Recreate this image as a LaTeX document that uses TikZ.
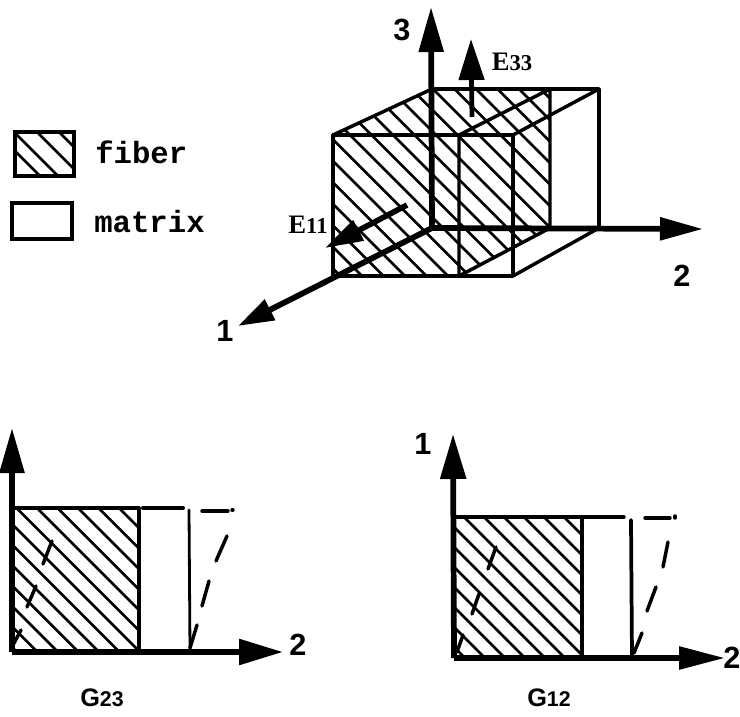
\documentclass[tikz,border=0pt]{standalone}
\usepackage{fontspec}
\setmainfont{Liberation Sans}
\newfontfamily\legendfont{Liberation Mono}[BoldFont={Liberation Mono Bold}]
\newfontfamily\efont{Liberation Serif}
\usetikzlibrary{arrows.meta}
\tikzset{
  edge/.style={line width=2.6pt,line cap=round,line join=round},
  frameedge/.style={line width=3pt,line cap=round,line join=round},
  thinedge/.style={line width=2.1pt,line cap=round},
  hatchline/.style={line width=1.9pt},
  axis/.style={line width=4.3pt},
  axhead/.style 2 args={-{Triangle[length=#1*0.75pt,width=#2*0.75pt]}},
  dashpiece/.style={line width=2.6pt,line cap=round},
  numlabel/.style={inner sep=0pt,font=\fontsize{23}{23}\selectfont\bfseries},
  legendlabel/.style={inner sep=0pt,anchor=west,font=\fontsize{23}{23}\selectfont\legendfont\bfseries},
  elabel/.style={inner sep=0pt,font=\fontsize{20}{20}\selectfont\efont\bfseries},
  glabel/.style={inner sep=0pt,font=\fontsize{19}{19}\selectfont\bfseries}
}
\begin{document}
\begin{tikzpicture}[x=0.75pt,y=-0.75pt]
\useasboundingbox (0,0) rectangle (740,717);
% ---------- legend
\begin{scope}
\clip (15,132) rectangle (74,176);
\foreach \c in {-14,4,27,49}{\draw[hatchline] (\c,122) -- ++(70,70);}
\end{scope}
\node[draw,line width=2.8pt,minimum width=44pt,minimum height=33pt,inner sep=0pt] (fiberbox) at (44.5,154) {};
\node[draw,line width=2.8pt,minimum width=45pt,minimum height=27pt,inner sep=0pt] (matrixbox) at (42,221) {};
\node[legendlabel] (fibertext) at (95,152) {fiber};
\node[legendlabel] (matrixtext) at (94,222) {matrix};
% ---------- cube
\coordinate (O) at (432,228);
\coordinate (A) at (333,135);
\coordinate (B) at (333,276);
\coordinate (C) at (459,135);
\coordinate (D) at (459,276);
\coordinate (E) at (513,135);
\coordinate (F) at (513,276);
\coordinate (G) at (432,89);
\coordinate (H) at (550,89);
\coordinate (I) at (550,228);
\coordinate (J) at (599,89);
\coordinate (K) at (599,228);
\begin{scope}
\clip (A) -- (G) -- (H) -- (I) -- (D) -- (B) -- cycle;
\foreach \k in {-12,...,8}{\draw[hatchline] (300,{85+21.5*\k}) -- ++(400,400);}
\end{scope}
\draw[edge] (A) -- (E) -- (F) -- (B) -- cycle;
\draw[edge] (G) -- (J) -- (K);
\draw[edge] (A) -- (G);
\draw[edge] (C) -- (H) -- (I) -- (D) -- cycle;
\draw[edge] (E) -- (J);
\draw[edge] (F) -- (K);
\coordinate (T3) at (431,7);
\coordinate (T2) at (703,229);
\coordinate (T1) at (238,326);
\draw[axis,axhead={45}{24}] (O) -- (T3);
\draw[axis,axhead={43}{22}] (O) -- (T2);
\draw[axis,axhead={36}{22}] (O) -- (T1);
\coordinate (E33a) at (472,117);
\coordinate (E33b) at (471,39);
\draw[line width=3.6pt,axhead={41}{25}] (E33a) -- (E33b);
\coordinate (E11a) at (407,205);
\coordinate (E11b) at (325,248);
\draw[line width=4.2pt,axhead={38}{22}] (E11a) -- (E11b);
\node[numlabel] (l3) at (402,30) {3};
\node[numlabel] (l2) at (682,276) {2};
\node[numlabel] (l1) at (225,331) {1};
\node[elabel] (e33) at (512,62) {E\fontsize{17}{17}\selectfont 33};
\node[elabel] (e11) at (308,225) {E\fontsize{17}{17}\selectfont 11};
% ---------- G23
\coordinate (O23) at (12,652);
\coordinate (U23) at (12,428);
\coordinate (R23) at (283,652);
\begin{scope}
\clip (12,508) rectangle (139,652);
\foreach \k in {-6,...,7}{\draw[hatchline] ({-135+20.5*\k+123},500) -- ++(170,170);}
\end{scope}
\draw[frameedge] (12,508) -- (139,508) -- (139,652);
\draw[axis,axhead={45}{24}] (O23) -- (U23);
\draw[axis,axhead={44}{25}] (O23) -- (R23);
\draw[frameedge] (143,508) -- (183,508);
\draw[thinedge] (189,510) -- (190,650);
\draw[dashpiece] (202,511) -- (228,511);
\draw[dashpiece] (232,510) -- (233,510);
\foreach \xa/\ya/\xb/\yb in {227/536/216/561,209/581/202/606,197/625/190/648,52/541/43/564,36/586/27/607,21/630/13/645}{\draw[dashpiece] (\xa,\ya) -- (\xb,\yb);}
\node[numlabel] (l2a) at (298,645) {2};
\node[glabel] (g23) at (102,698) {G\fontsize{16}{16}\selectfont 23};
% ---------- G12
\coordinate (O12) at (454,658);
\coordinate (U12) at (453,434);
\coordinate (R12) at (725,658);
\begin{scope}
\clip (454,517) rectangle (582,658);
\foreach \c in {297,317,...,577}{\draw[hatchline] (\c,510) -- ++(170,170);}
\end{scope}
\draw[frameedge] (454,517) -- (582,517) -- (582,658);
\draw[axis,axhead={45}{25}] (O12) -- (U12);
\draw[axis,axhead={46}{22}] (O12) -- (R12);
\draw[edge] (583,517) -- (624,517);
\draw[thinedge,line width=2.8pt] (631,520) -- (632,657);
\draw[dashpiece] (645,518) -- (670,518);
\draw[dashpiece] (675,516) -- (675,518);
\foreach \xa/\ya/\xb/\yb in {668/542/663/567,656/587/647/611,642/633/634/653,496/547/488/569,479/594/472/614,463/635/457/652}{\draw[dashpiece] (\xa,\ya) -- (\xb,\yb);}
\node[numlabel] (l1a) at (423,444) {1};
\node[numlabel] (l2b) at (732,658) {2};
\node[glabel] (g12) at (549,698) {G\fontsize{16}{16}\selectfont 12};
\end{tikzpicture}
\end{document}
